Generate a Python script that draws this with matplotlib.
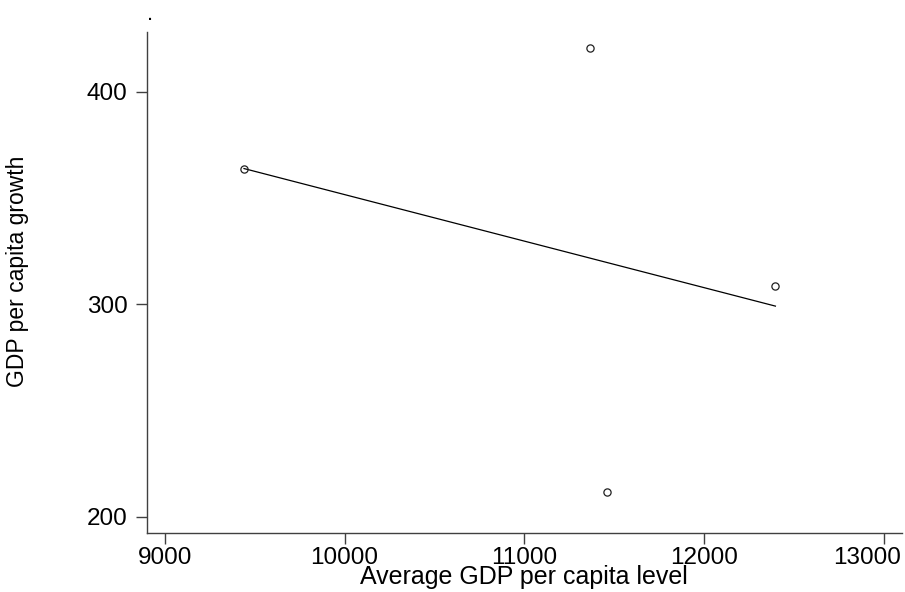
import matplotlib
matplotlib.use("Agg")
import matplotlib.pyplot as plt
import matplotlib.transforms as mtransforms
import numpy as np

# values
avg_gdp_level = np.array([9441, 11365, 12396, 11461])
gdp_growth = np.array([363.6, 420.4, 308.7, 211.6])

x_ticks = [9000, 10000, 11000, 12000, 13000]
y_ticks = [200, 300, 400]


def main():
    plt.rcParams['font.family'] = ['Liberation Sans', 'DejaVu Sans']

    fig = plt.figure(figsize=(9.05, 5.92), dpi=100)
    ax = fig.add_axes([0.1624, 0.0991, 0.834, 0.8468])

    # linear fit, drawn over the sorted x values
    slope, icpt = np.polyfit(avg_gdp_level, gdp_growth, 1)
    xs = np.sort(avg_gdp_level)
    ax.plot(xs, icpt + slope * xs, color='black', lw=0.9)

    ax.plot(avg_gdp_level, gdp_growth, 'o', ms=5.2, mfc='none',
            mec='#202020', mew=0.9)

    ax.set_xlim(8901.5, 13098.5)
    ax.set_ylim(192.2, 428.1)
    ax.set_xticks(x_ticks)
    ax.set_yticks(y_ticks)

    for s in ['top', 'right']:
        ax.spines[s].set_visible(False)
    for s in ['left', 'bottom']:
        ax.spines[s].set_color('#404040')
        ax.spines[s].set_linewidth(1.0)

    ax.tick_params(axis='x', length=8, width=1.0, color='#404040', pad=2,
                   labelsize=17.5)
    ax.tick_params(axis='y', length=8, width=1.0, color='#404040', pad=6,
                   labelsize=17.5)

    # last x label is pushed left so it stays inside the picture
    fig.canvas.draw()
    last = ax.get_xticklabels()[-1]
    last.set_transform(last.get_transform() +
                       mtransforms.ScaledTranslation(-0.17, 0, fig.dpi_scale_trans))

    ax.set_xlabel("Average GDP per capita level", fontsize=18)
    ax.xaxis.label.set_va('center')
    ax.xaxis.set_label_coords(0.5, -0.088)
    ax.set_ylabel("GDP per capita growth", fontsize=16.5)
    ax.yaxis.label.set_va('center')
    ax.yaxis.set_label_coords(-0.171, 0.522)

    fig.text(0.1657, 0.976, '.', fontsize=16, ha='center', va='center')

    fig.savefig('out.png', dpi=100)


if __name__ == "__main__": main()
